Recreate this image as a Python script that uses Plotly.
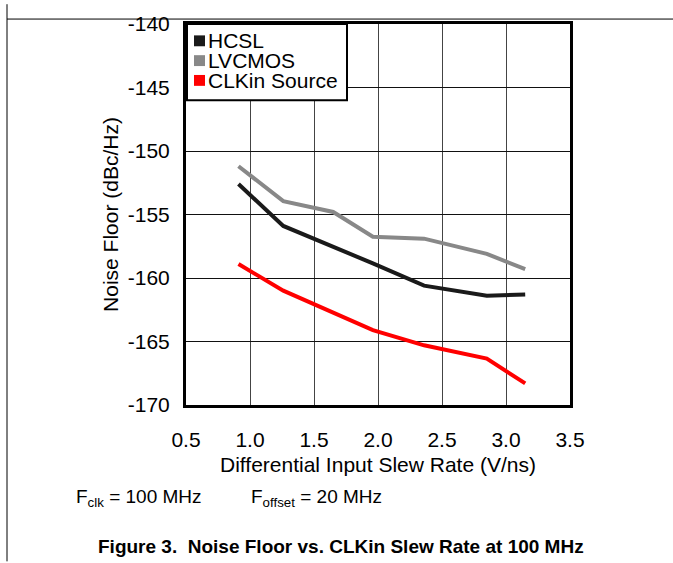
import plotly.graph_objects as go

series_names = ["HCSL", "LVCMOS", "CLKin Source"]
series_colors = ["#1a1a1a", "#888888", "#ff0000"]

hcsl_x = [0.91, 1.26, 1.96, 2.36, 2.85, 3.15]
hcsl_y = [-152.6, -155.9, -158.85, -160.6, -161.4, -161.3]

lvcmos_x = [0.91, 1.26, 1.65, 1.96, 2.36, 2.85, 3.15]
lvcmos_y = [-151.2, -153.95, -154.8, -156.75, -156.9, -158.1, -159.3]

clkin_x = [0.91, 1.26, 1.96, 2.36, 2.85, 3.15]
clkin_y = [-158.9, -161.0, -164.1, -165.3, -166.35, -168.3]

x_ticks = [0.5, 1.0, 1.5, 2.0, 2.5, 3.0, 3.5]
x_tick_labels = ["0.5", "1.0", "1.5", "2.0", "2.5", "3.0", "3.5"]
y_ticks = [-140, -145, -150, -155, -160, -165, -170]
y_tick_labels = ["-140", "-145", "-150", "-155", "-160", "-165", "-170"]

xs = [hcsl_x, lvcmos_x, clkin_x]
ys = [hcsl_y, lvcmos_y, clkin_y]

FONT = "Liberation Sans, Arial, sans-serif"

fig = go.Figure()
for name, color, x, y in zip(series_names, series_colors, xs, ys):
    fig.add_trace(go.Scatter(x=x, y=y, mode="lines", name=name,
                             line=dict(color=color, width=4),
                             showlegend=False))

# plot area in pixels
L, R, T, B = 186, 570, 20, 405
W, H = 673, 563
def px(xp):
    return (xp - L) / (R - L)
def py(yp):
    return (B - yp) / (B - T)

shapes = []
# page frame lines
shapes.append(dict(type="line", xref="paper", yref="paper", x0=px(7), x1=px(673), y0=py(15), y1=py(15),
                   line=dict(color="black", width=1)))
shapes.append(dict(type="line", xref="paper", yref="paper", x0=px(7), x1=px(7), y0=py(0), y1=py(563),
                   line=dict(color="black", width=1)))
# manual legend box
shapes.append(dict(type="rect", xref="paper", yref="paper", x0=px(187), x1=px(347), y0=py(97), y1=py(20),
                   fillcolor="white", line=dict(color="black", width=2), layer="above"))
annotations = []
for i, (name, color) in enumerate(zip(series_names, series_colors)):
    cy = 37 + 20 * i
    shapes.append(dict(type="rect", xref="paper", yref="paper", x0=px(194), x1=px(205), y0=py(cy + 5.5), y1=py(cy - 5.5),
                       fillcolor=color, line=dict(width=0), layer="above"))
    annotations.append(dict(x=px(206), y=py(cy), xref="paper", yref="paper", text=name, showarrow=False,
                            xanchor="left", yanchor="middle", font=dict(family=FONT, size=21, color="black")))

annotations.append(dict(x=px(74), y=py(499), xref="paper", yref="paper",
                        text="F<sub>clk</sub> = 100 MHz", showarrow=False, xanchor="left", yanchor="middle",
                        font=dict(family=FONT, size=19, color="black")))
annotations.append(dict(x=px(249), y=py(499), xref="paper", yref="paper",
                        text="F<sub>offset</sub> = 20 MHz", showarrow=False, xanchor="left", yanchor="middle",
                        font=dict(family=FONT, size=19, color="black")))
annotations.append(dict(x=px(341), y=py(548), xref="paper", yref="paper",
                        text="<b>Figure 3.  Noise Floor vs. CLKin Slew Rate at 100 MHz</b>", showarrow=False,
                        xanchor="center", yanchor="middle",
                        font=dict(family=FONT, size=19, color="black")))

fig.update_layout(
    width=W, height=H,
    margin=dict(l=L, r=W - R, t=T, b=H - B, pad=0),
    plot_bgcolor="white", paper_bgcolor="white",
    font=dict(family=FONT, size=21, color="black"),
    shapes=shapes, annotations=annotations,
    showlegend=False,
)
fig.update_xaxes(range=[0.5, 3.5], tickvals=x_ticks, ticktext=x_tick_labels,
                 showgrid=True, gridcolor="#444444", gridwidth=1,
                 showline=True, linecolor="black", linewidth=3, mirror=True,
                 ticks="", zeroline=False, ticklabelstandoff=14,
                 title=dict(text="Differential Input Slew Rate (V/ns)", font=dict(size=21), standoff=8))
fig.update_yaxes(range=[-170, -140], tickvals=y_ticks, ticktext=y_tick_labels,
                 showgrid=True, gridcolor="#111111", gridwidth=1,
                 showline=True, linecolor="black", linewidth=3, mirror=True,
                 ticks="", zeroline=False, ticklabelstandoff=9,
                 title=dict(text="Noise Floor (dBc/Hz)", font=dict(size=21), standoff=4))

fig.write_html("out.html")
